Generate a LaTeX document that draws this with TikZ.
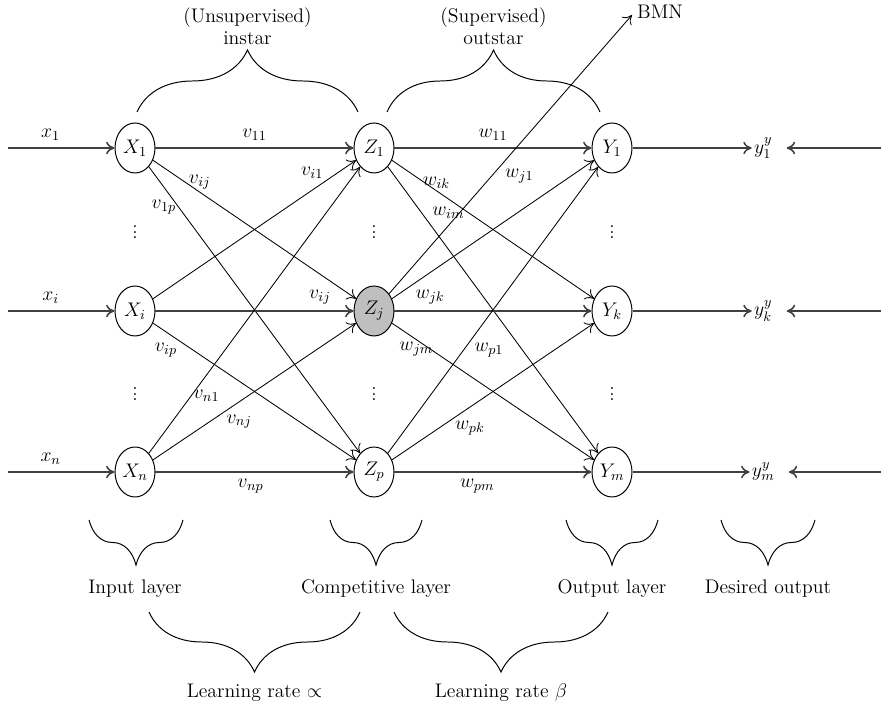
\documentclass[tikz,border=0pt]{standalone}
\usepackage{fix-cm}
\usepackage{fontspec}
\usepackage{amsmath}
\usetikzlibrary{arrows.meta,shapes.geometric,decorations.pathreplacing}
\begin{document}
\begin{tikzpicture}[font=\fontsize{14}{16}\selectfont, >={To[length=6pt,width=9pt]},
    neuron/.style={ellipse, draw, line width=0.7pt, minimum width=1cm, minimum height=1.25cm, inner sep=0pt},
    hline/.style={->, line width=1.1pt, black!75},
    link/.style={->, line width=0.6pt},
    wt/.style={inner sep=1.5pt, text=black},
    brc/.style={decorate, decoration={brace, amplitude=#1}, line width=0.7pt}]
    \useasboundingbox (0, 0) rectangle (22.025, 17.75);
    \node[neuron] (X1) at (3.375, 14.05) {$X_1$};
    \node[neuron] (Xi) at (3.375, 9.975) {$X_i$};
    \node[neuron] (Xn) at (3.375, 5.95) {$X_n$};
    \node[neuron] (Z1) at (9.35, 14.05) {$Z_1$};
    \node[neuron, fill=black!25] (Zj) at (9.35, 9.975) {$Z_j$};
    \node[neuron] (Zp) at (9.35, 5.95) {$Z_p$};
    \node[neuron] (Y1) at (15.3, 14.05) {$Y_1$};
    \node[neuron] (Yk) at (15.3, 9.975) {$Y_k$};
    \node[neuron] (Ym) at (15.3, 5.95) {$Y_m$};
    \foreach \c/\n in {3.375/X, 9.35/Z, 15.3/Y} {
        \node (\n dotsa) at (\c, 12.05) {$\vdots$};
        \node (\n dotsb) at (\c, 8.0) {$\vdots$};
    }
    \coordinate (in1) at (0.2, 14.05);
    \coordinate (ini) at (0.2, 9.975);
    \coordinate (inn) at (0.2, 5.95);
    \draw[hline] (in1) -- node[wt, above=3pt, pos=0.4] (x1) {$x_1$} (X1);
    \draw[hline] (ini) -- node[wt, above=3pt, pos=0.4] (xi) {$x_i$} (Xi);
    \draw[hline] (inn) -- node[wt, above=3pt, pos=0.4] (xn) {$x_n$} (Xn);
    \draw[hline] (X1) -- node[wt, above=3pt] (v11) {$v_{11}$} (Z1);
    \draw[link] (X1) -- node[wt, above, pos=0.23] (v1j) {$v_{ij}$} (Zj);
    \draw[link] (X1) -- node[wt, left, pos=0.14] (v1p) {$v_{1p}$} (Zp);
    \draw[link] (Xi) -- node[wt, above left, pos=0.85] (vi1) {$v_{i1}$} (Z1);
    \draw[hline] (Xi) -- node[wt, above=3pt, pos=0.83] (vij) {$v_{ij}$} (Zj);
    \draw[link] (Xi) -- node[wt, below left, pos=0.13] (vip) {$v_{ip}$} (Zp);
    \draw[link] (Xn) -- node[wt, right, pos=0.2] (vn1) {$v_{n1}$} (Z1);
    \draw[link] (Xn) -- node[wt, below right, pos=0.35] (vnj) {$v_{nj}$} (Zj);
    \draw[hline] (Xn) -- node[wt, below=3pt, pos=0.48] (vnp) {$v_{np}$} (Zp);
    \draw[hline] (Z1) -- node[wt, above=3pt] (w11) {$w_{11}$} (Y1);
    \draw[link] (Z1) -- node[wt, above, pos=0.22] (wik) {$w_{ik}$} (Yk);
    \draw[link] (Z1) -- node[wt, right=6pt, pos=0.16] (wim) {$w_{im}$} (Ym);
    \draw[link] (Zj) -- node[wt, above=0.65cm, pos=0.63] (wj1) {$w_{j1}$} (Y1);
    \draw[hline] (Zj) -- node[wt, above=3pt, pos=0.18] (wjk) {$w_{jk}$} (Yk);
    \draw[link] (Zj) -- node[wt, below, pos=0.12] (wjm) {$w_{jm}$} (Ym);
    \draw[link] (Zp) -- node[wt, right=6pt, pos=0.36] (wp1) {$w_{p1}$} (Y1);
    \draw[link] (Zp) -- node[wt, below right, pos=0.3] (wpk) {$w_{pk}$} (Yk);
    \draw[hline] (Zp) -- node[wt, below=3pt, pos=0.42] (wpm) {$w_{pm}$} (Ym);
    \coordinate (bmn) at (15.8, 17.375);
    \draw[link] (Zj) -- (bmn);
    \node (bmnlbl) at (16.5, 17.45) {BMN};
    \node[wt] (d1) at (19.08, 14.05) {$y_1^y$};
    \node[wt] (dk) at (19.08, 9.975) {$y_k^y$};
    \node[wt] (dm) at (19.08, 5.95) {$y_m^y$};
    \coordinate (r1) at (22.025, 14.05);
    \coordinate (rk) at (22.025, 9.975);
    \coordinate (rm) at (22.025, 5.95);
    \draw[hline] (Y1) -- (d1);
    \draw[hline] (Yk) -- (dk);
    \draw[hline] (Ym) -- (dm);
    \draw[hline, shorten >=0.3cm] (r1) -- (d1);
    \draw[hline, shorten >=0.3cm] (rk) -- (dk);
    \draw[hline, shorten >=0.3cm] (rm) -- (dm);
    \draw[brc=1.55cm] (3.425, 14.95) -- (8.95, 14.95);
    \draw[brc=1.55cm] (9.675, 14.95) -- (15.0, 14.95);
    \node[align=center, above] (instar) at (6.1875, 16.5) {(Unsupervised)\\instar};
    \node[align=center, above] (outstar) at (12.3375, 16.5) {(Supervised)\\outstar};
    \draw[brc=1.125cm] (4.575, 4.75) -- (2.225, 4.75);
    \draw[brc=1.125cm] (10.55, 4.75) -- (8.25, 4.75);
    \draw[brc=1.125cm] (16.45, 4.75) -- (14.15, 4.75);
    \draw[brc=1.125cm] (20.375, 4.75) -- (18.025, 4.75);
    \node (inlayer) at (3.375, 3.025) {Input layer};
    \node (complayer) at (9.4, 3.025) {Competitive layer};
    \node (outlayer) at (15.3, 3.025) {Output layer};
    \node (desired) at (19.2, 3.025) {Desired output};
    \draw[brc=1.5cm] (9.0, 2.45) -- (3.725, 2.45);
    \draw[brc=1.5cm] (15.2, 2.45) -- (9.85, 2.45);
    \node (lralpha) at (6.3625, 0.425) {Learning rate $\propto$};
    \node (lrbeta) at (12.525, 0.425) {Learning rate $\beta$};
\end{tikzpicture}
\end{document}
